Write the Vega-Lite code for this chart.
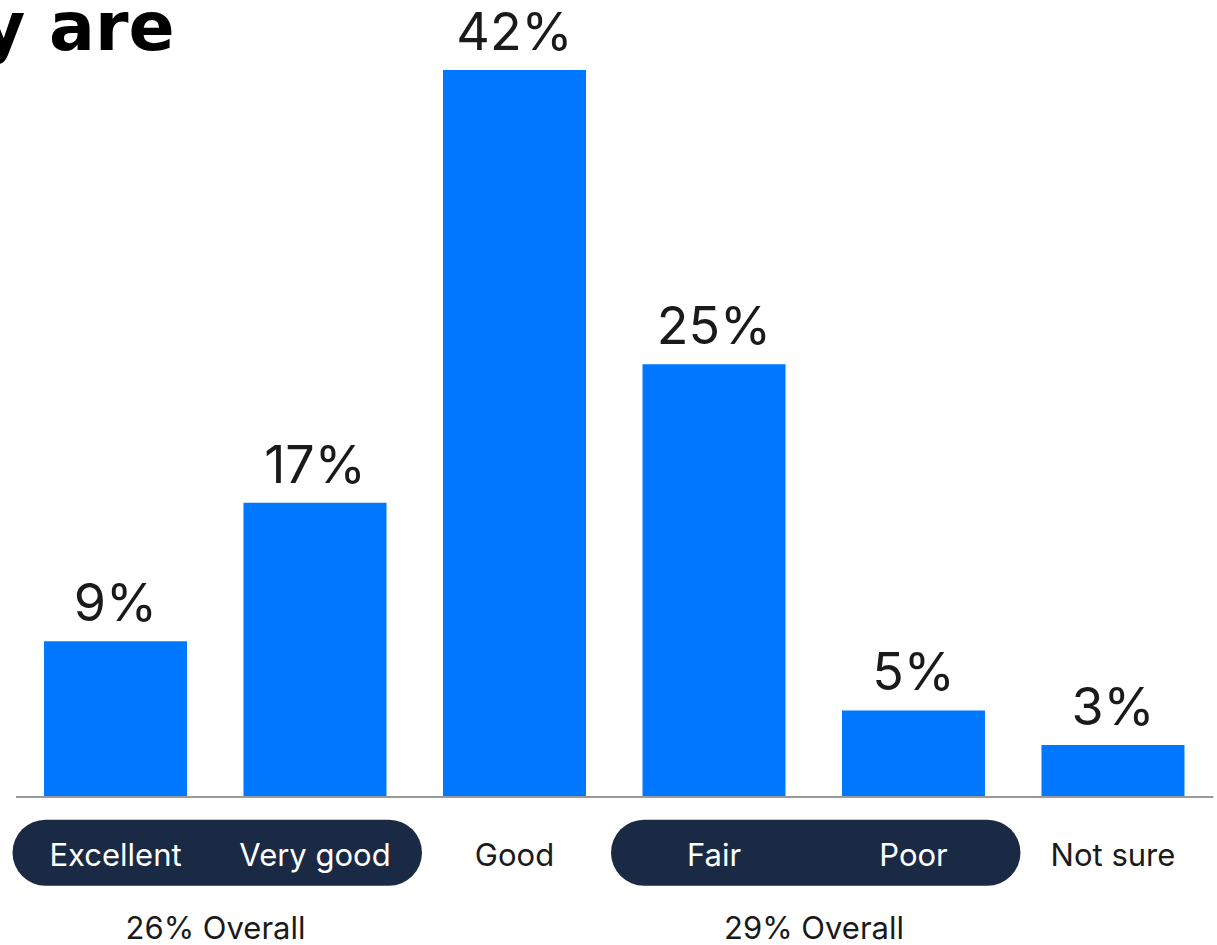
{
  "$schema": "https://vega.github.io/schema/vega-lite/v6.json",
  "width": 1217,
  "height": 885,
  "autosize": {"type": "none"},
  "padding": {"left": 0, "top": 60, "right": 0, "bottom": 0},
  "background": "white",
  "config": {"view": {"stroke": null}},
  "title": {
    "text": "y are",
    "anchor": "start",
    "frame": "group",
    "font": "DejaVu Sans",
    "fontSize": 68,
    "fontWeight": "bold",
    "color": "#000000",
    "baseline": "alphabetic",
    "offset": 7,
    "dx": -19,
    "dy": 117
  },
  "datasets": {
    "bars": [
      {"cat": "Excellent", "value": 9, "label": "9%", "grouped": true},
      {"cat": "Very good", "value": 17, "label": "17%", "grouped": true},
      {"cat": "Good", "value": 42, "label": "42%", "grouped": false},
      {"cat": "Fair", "value": 25, "label": "25%", "grouped": true},
      {"cat": "Poor", "value": 5, "label": "5%", "grouped": true},
      {"cat": "Not sure", "value": 3, "label": "3%", "grouped": false}
    ],
    "groups": [
      {"start": "Excellent", "end": "Very good", "overall": "26% Overall"},
      {"start": "Fair", "end": "Poor", "overall": "29% Overall"}
    ]
  },
  "layer": [
    {
      "data": {"name": "bars"},
      "mark": {"type": "bar", "color": "#0077FF"},
      "encoding": {
        "x": {
          "field": "cat", "type": "nominal",
          "scale": {"domain": ["Excellent", "Very good", "Good", "Fair", "Poor", "Not sure"], "paddingInner": 0.2832, "paddingOuter": 0.1918, "align": 0.575},
          "axis": null
        },
        "y": {"field": "value", "type": "quantitative", "scale": {"domain": [-8.55, 42.578], "nice": false, "zero": false}, "axis": null},
        "y2": {"datum": 0}
      }
    },
    {
      "data": {"name": "bars"},
      "mark": {"type": "text", "font": "Inter", "fontSize": 52, "color": "#1a1a1a", "baseline": "alphabetic", "align": "center", "dy": -20},
      "encoding": {
        "x": {"field": "cat", "type": "nominal"},
        "y": {"field": "value", "type": "quantitative"},
        "text": {"field": "label"}
      }
    },
    {
      "data": {"values": [{"a": 1}]},
      "mark": {"type": "rule", "color": "#999999", "strokeWidth": 2, "xOffset": -99.5, "x2Offset": 100.5},
      "encoding": {
        "x": {"datum": "Excellent"},
        "x2": {"datum": "Not sure"},
        "y": {"datum": 0}
      }
    },
    {
      "data": {"name": "groups"},
      "mark": {"type": "rule", "color": "#1b2a44", "strokeWidth": 66, "strokeCap": "round", "xOffset": -70, "x2Offset": 74},
      "encoding": {
        "x": {"field": "start", "type": "nominal"},
        "x2": {"field": "end"},
        "y": {"datum": -3.218}
      }
    },
    {
      "data": {"name": "bars"},
      "mark": {"type": "text", "font": "Inter", "fontSize": 31, "baseline": "alphabetic", "align": "center"},
      "encoding": {
        "x": {"field": "cat", "type": "nominal"},
        "y": {"datum": -3.986},
        "text": {"field": "cat"},
        "color": {"condition": {"test": "datum.grouped", "value": "#ffffff"}, "value": "#1a1a1a"}
      }
    },
    {
      "data": {"name": "groups"},
      "mark": {"type": "text", "font": "Inter", "fontSize": 31, "baseline": "alphabetic", "align": "center", "color": "#1a1a1a", "dx": 100},
      "encoding": {
        "x": {"field": "start", "type": "nominal"},
        "y": {"datum": -8.2},
        "text": {"field": "overall"}
      }
    }
  ]
}
